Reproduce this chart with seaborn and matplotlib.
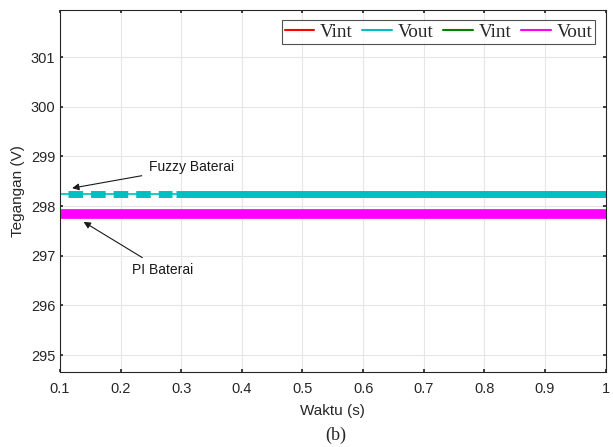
import numpy as np
import pandas as pd
import matplotlib
matplotlib.use("Agg")
import matplotlib.pyplot as plt
import seaborn as sns
from matplotlib.lines import Line2D

# Data
t_span = [0.1, 1.0]
fuzzy_vout = [298.25, 298.25]
fuzzy_dash_t = [0.113, 0.285]
fuzzy_solid_t = [0.291, 1.0]
fuzzy_band = [298.24, 298.24]
pi_vout = [297.84, 297.84]
x_ticks = [0.1, 0.2, 0.3, 0.4, 0.5, 0.6, 0.7, 0.8, 0.9, 1.0]
x_ticklabels = ["0.1", "0.2", "0.3", "0.4", "0.5", "0.6", "0.7", "0.8", "0.9", "1"]
y_ticks = [295, 296, 297, 298, 299, 300, 301]
legend_labels = ["Vint", "Vout", "Vint", "Vout"]
legend_colors = ["#ff0000", "#00bfbf", "#008000", "#ff00ff"]

sns.set_theme(style="white")
plt.rcParams['font.family'] = ['Liberation Sans', 'DejaVu Sans']

fig = plt.figure(figsize=(6.13, 4.47), dpi=100)
ax = fig.add_axes([0.0979, 0.168, 0.890, 0.810])

df_thin = pd.DataFrame({"t": t_span, "v": fuzzy_vout})
df_dash = pd.DataFrame({"t": fuzzy_dash_t, "v": fuzzy_band})
df_solid = pd.DataFrame({"t": fuzzy_solid_t, "v": fuzzy_band})
df_pi = pd.DataFrame({"t": t_span, "v": pi_vout})

sns.lineplot(data=df_thin, x="t", y="v", ax=ax, color="#00bfbf", lw=1.2)
sns.lineplot(data=df_dash, x="t", y="v", ax=ax, color="#00bfbf", lw=5,
             linestyle=(0, (2.1, 1.15)))
sns.lineplot(data=df_solid, x="t", y="v", ax=ax, color="#00bfbf", lw=5,
             solid_capstyle="butt")
sns.lineplot(data=df_pi, x="t", y="v", ax=ax, color="#ff00ff", lw=7,
             solid_capstyle="butt")

ax.set_xlim(0.1, 1.0)
ax.set_ylim(294.66, 301.95)
ax.set_xticks(x_ticks)
ax.set_xticklabels(x_ticklabels)
ax.set_yticks(y_ticks)
ax.grid(True, color="#e6e6e6", lw=0.8)
ax.tick_params(direction="in", length=2.5, labelsize=10.5, colors="#262626",
               bottom=True, left=True, top=True, right=True,
               labeltop=False, labelright=False)
ax.tick_params(axis="x", pad=7)
for s in ax.spines.values():
    s.set_color("#262626")
    s.set_linewidth(0.8)
ax.set_xlabel("Waktu (s)", fontsize=11, color="#262626", labelpad=6)
ax.set_ylabel("Tegangan (V)", fontsize=11, color="#262626")

handles = [Line2D([], [], color=c, lw=1.5) for c in legend_colors]
leg = ax.legend(handles, legend_labels, ncol=4, loc="upper right",
                prop={"family": "Liberation Serif", "size": 13.8},
                frameon=True, fancybox=False, edgecolor="#262626",
                handlelength=1.55, handletextpad=0.3, columnspacing=0.5,
                borderpad=0.15, borderaxespad=0.55)
leg.get_frame().set_linewidth(0.8)

ax.annotate("Fuzzy Baterai", xy=(0.12, 298.36), xytext=(0.247, 298.79),
            fontsize=10, color="#1a1a1a", ha="left", va="center",
            arrowprops=dict(arrowstyle="-|>", color="#1a1a1a", lw=0.8,
                            mutation_scale=10, shrinkA=3, shrinkB=0))
ax.annotate("PI Baterai", xy=(0.139, 297.68), xytext=(0.219, 296.71),
            fontsize=10, color="#1a1a1a", ha="left", va="center",
            arrowprops=dict(arrowstyle="-|>", color="#1a1a1a", lw=0.8,
                            mutation_scale=10, shrinkA=3, shrinkB=0))

fig.text(0.547, 0.025, "(b)", fontsize=13, family="Liberation Serif",
         ha="center", va="center")

fig.savefig("out.png", dpi=100)
